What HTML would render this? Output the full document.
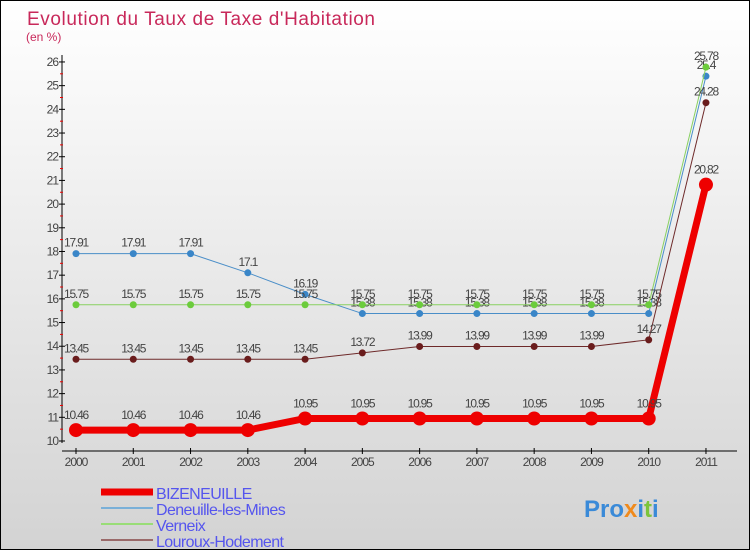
<!DOCTYPE html>
<html><head><meta charset="utf-8"><style>
body{margin:0}
#c{width:750px;height:550px;position:relative;box-sizing:border-box;border:1px solid #000;background:linear-gradient(#ffffff,#d3d3d3);font-family:"DejaVu Sans","Liberation Sans",sans-serif;overflow:hidden}
svg{position:absolute;left:0;top:0}
</style></head><body>
<div id="c">
<svg id="s" width="750" height="550">
<text x="26" y="24" font-size="19" fill="#c8285a" font-family="Liberation Sans" textLength="348">Evolution du Taux de Taxe d'Habitation</text>
<text x="25" y="40" font-size="12" fill="#c8285a" font-family="Liberation Sans">(en %)</text>
</svg>
</div>
<script>
const years=[2000,2001,2002,2003,2004,2005,2006,2007,2008,2009,2010,2011];
const bizeneuille=[10.46,10.46,10.46,10.46,10.95,10.95,10.95,10.95,10.95,10.95,10.95,20.82];
const deneuille=[17.91,17.91,17.91,17.1,16.19,15.38,15.38,15.38,15.38,15.38,15.38,25.4];
const verneix=[15.75,15.75,15.75,15.75,15.75,15.75,15.75,15.75,15.75,15.75,15.75,25.78];
const louroux=[13.45,13.45,13.45,13.45,13.45,13.72,13.99,13.99,13.99,13.99,14.27,24.28];
const yTicks=[10,11,12,13,14,15,16,17,18,19,20,21,22,23,24,25,26];
const names=["BIZENEUILLE","Deneuille-les-Mines","Verneix","Louroux-Hodement"];
const NS="http://www.w3.org/2000/svg",s=document.getElementById('s');
const X=i=>75+i*57.27, Y=v=>440-(v-10)*23.69;
function mk(t,a,p){const e=document.createElementNS(NS,t);for(const k in a)e.setAttribute(k,a[k]);(p||s).appendChild(e);return e;}
let ax=mk('line',{x1:61,y1:54,x2:61,y2:442,stroke:'#000'});


let xa=mk('line',{x1:61,y1:450,x2:736,y2:450,stroke:'#000'});


yTicks.forEach(v=>{mk('line',{x1:58,y1:Y(v),x2:64,y2:Y(v),stroke:'#000'});
 if(v<26)mk('line',{x1:59,y1:Y(v+0.5),x2:62,y2:Y(v+0.5),stroke:'#e00'});
 const t=mk('text',{x:57,y:Y(v)+4,'font-size':12,fill:'#444','text-anchor':'end','letter-spacing':'-1','font-family':'Liberation Sans'});t.textContent=v;
 
 });
years.forEach((y,i)=>{mk('line',{x1:X(i),y1:447,x2:X(i),y2:453,stroke:'#000'});
 const t=mk('text',{x:X(i),y:465,'font-size':12,fill:'#444','text-anchor':'middle','letter-spacing':'-1','font-family':'Liberation Sans'});t.textContent=y;
 
 });
const series=[[deneuille,'#4a8ec8','#3a86c8',1,3.5,'deneuille'],[verneix,'#88d060','#6ccc3c',1,3.5,'verneix'],[louroux,'#6e2a2a','#6a1c1c',1,3.5,'louroux'],[bizeneuille,'#ee0000','#ee0000',7,7,'bizeneuille']];
series.forEach(([d,c,fc,w,r,n])=>{
 const p=mk('polyline',{points:d.map((v,i)=>X(i)+','+Y(v)).join(' '),fill:'none',stroke:c,'stroke-width':w});
 
 
 d.forEach((v,i)=>{const ci=mk('circle',{cx:X(i),cy:Y(v),r:r,fill:fc});
  
  
  const t=mk('text',{x:X(i),y:Y(v)-(w>1?11:7),'font-size':12,fill:'#444','text-anchor':'middle','letter-spacing':'-1.2','font-family':'Liberation Sans'});t.textContent=v;
  
  });
});
const lc=['#ee0000','#7ab0d8','#99dd77','#9a6a6a'],lw=[7,2,2,2];
names.forEach((n,i)=>{const y=491+i*16;
 mk('line',{x1:100,y1:y,x2:152,y2:y,stroke:lc[i],'stroke-width':lw[i]});
 const t=mk('text',{x:155,y:y+7,'font-size':16,fill:'#5555ee','letter-spacing':'-0.6','font-family':'Liberation Sans'});t.textContent=n;
 
 });
const lg=mk('text',{x:583,y:516,'font-size':24,'font-weight':'bold',fill:'#3a8ad8','font-family':'Liberation Sans'});


[['Pro','#3a8ad8'],['x','#f08a1c'],['i','#3a8ad8'],['t','#7cc43c'],['i','#3a8ad8']].forEach(([c,f])=>{const ts=mk('tspan',{fill:f},lg);ts.textContent=c;});
</script>
</body></html>
